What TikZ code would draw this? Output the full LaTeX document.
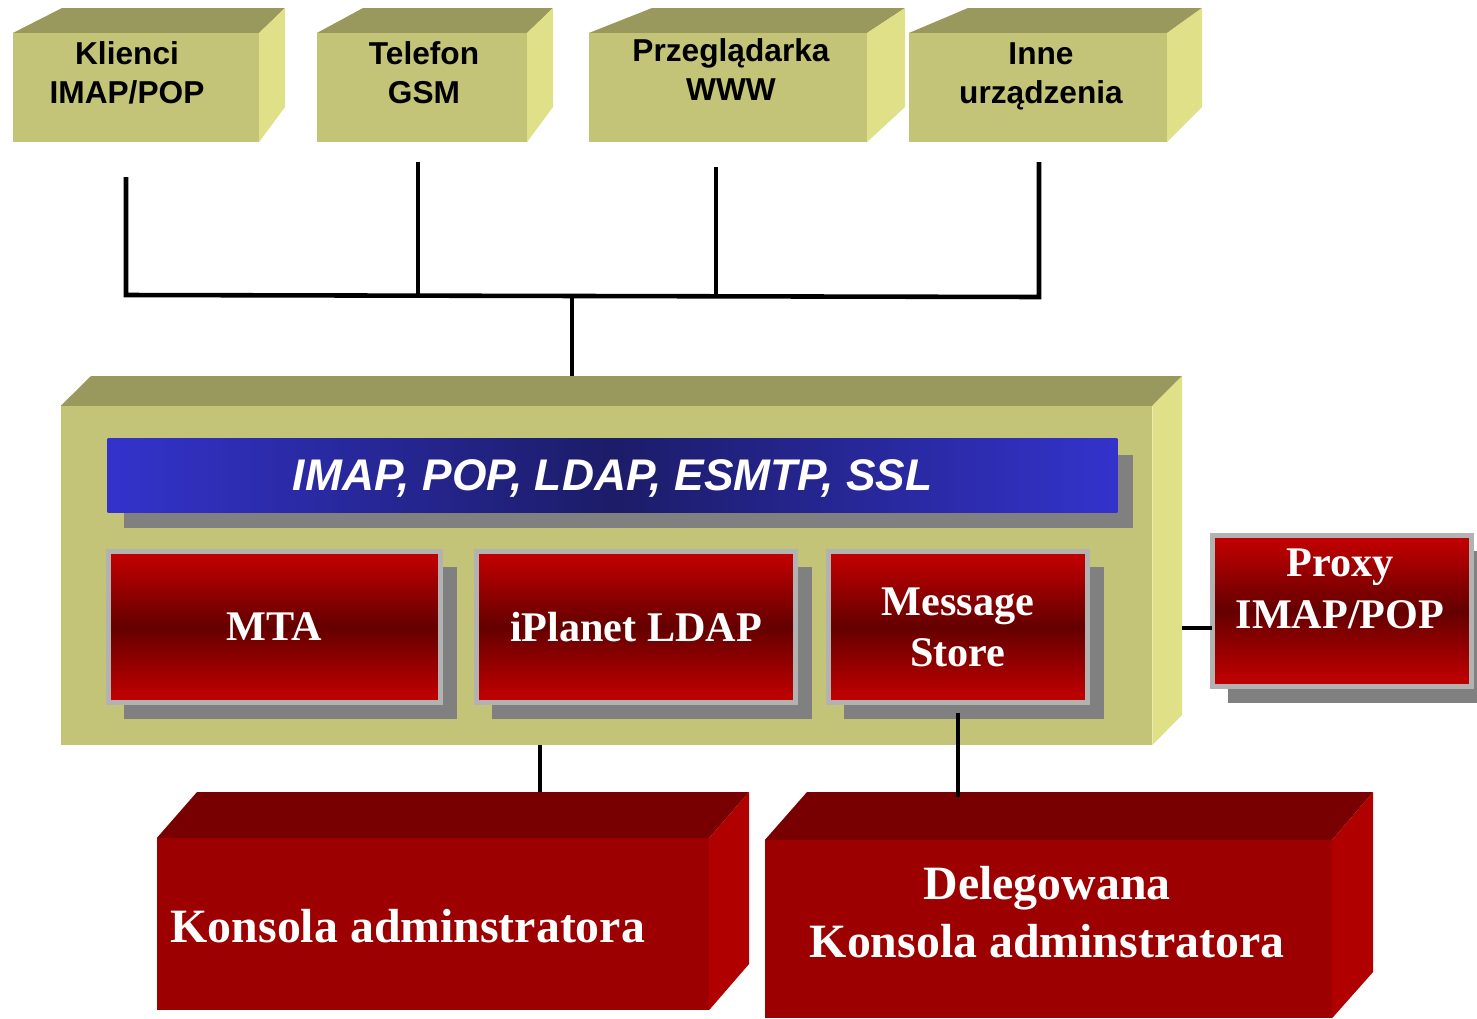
\documentclass[tikz,border=0pt]{standalone}
\usepackage{fontspec}
\setmainfont{Liberation Serif}
\setsansfont{Liberation Sans}
\usetikzlibrary{shadows}
\definecolor{olfront}{RGB}{195,196,120}
\definecolor{oltop}{RGB}{153,153,94}
\definecolor{olside}{RGB}{224,224,136}
\definecolor{shade}{RGB}{128,128,128}
\definecolor{rim}{RGB}{178,178,178}
\definecolor{redlite}{RGB}{198,0,0}
\definecolor{reddeep}{RGB}{100,0,0}
\definecolor{barlite}{RGB}{51,51,204}
\definecolor{bardeep}{RGB}{28,28,104}
\definecolor{konfront}{RGB}{156,0,0}
\definecolor{kontop}{RGB}{120,0,0}
\definecolor{konside}{RGB}{176,0,0}
\begin{document}
\begin{tikzpicture}[x=0.01cm, y=-0.01cm,
  olivefront/.style={fill=olfront, inner sep=0, outer sep=0, minimum height=1.09cm},
  clientlabel/.style={anchor=north, inner sep=0, align=center,
    font=\sffamily\bfseries\fontsize{9}{11.1}\selectfont},
  barbox/.style={left color=barlite, right color=barlite, middle color=bardeep,
    inner sep=0, outer sep=0, text=white, text depth=0pt,
    font=\sffamily\bfseries\itshape\fontsize{12.6}{14}\selectfont,
    drop shadow={shadow xshift=0.16cm, shadow yshift=-0.16cm, fill=shade, opacity=1}},
  redbox/.style={draw=rim, line width=0.05cm, top color=redlite, bottom color=redlite,
    middle color=reddeep, inner sep=0, outer sep=0, minimum height=1.51cm,
    text=white, align=center, font=\bfseries\fontsize{12}{14.5}\selectfont,
    drop shadow={shadow xshift=0.16cm, shadow yshift=-0.16cm, fill=shade, opacity=1}},
  redtext/.style={inner sep=0, text=white, align=center,
    font=\bfseries\fontsize{12}{14.8}\selectfont},
  konbox/.style={fill=konfront, inner sep=0, outer sep=0},
  consolelabel/.style={inner sep=0, text=white, align=center,
    font=\bfseries\fontsize{13.6}{16.5}\selectfont},
  wire/.style={line width=1.3pt},
  thinwire/.style={line width=0.9pt}]
\useasboundingbox (0,0) rectangle (1477,1018);

% clients
\node[olivefront, minimum width=2.46cm] (klienci) at (136,87.5) {};
\fill[oltop] (klienci.north west) -- (62,8) -- (285,8) -- (klienci.north east) -- cycle;
\fill[olside] (klienci.north east) -- (285,8) -- (285,107) -- (klienci.south east) -- cycle;
\node[clientlabel] (klienci-txt) at (127,41) {Klienci\\IMAP/POP};

\node[olivefront, minimum width=2.10cm] (gsm) at (422,87.5) {};
\fill[oltop] (gsm.north west) -- (363,8) -- (553,8) -- (gsm.north east) -- cycle;
\fill[olside] (gsm.north east) -- (553,8) -- (553,107) -- (gsm.south east) -- cycle;
\node[clientlabel] (gsm-txt) at (424,41) {Telefon\\GSM};

\node[olivefront, minimum width=2.78cm] (www) at (728,87.5) {};
\fill[oltop] (www.north west) -- (652,8) -- (905,8) -- (www.north east) -- cycle;
\fill[olside] (www.north east) -- (905,8) -- (905,107) -- (www.south east) -- cycle;
\node[clientlabel] (www-txt) at (731,38) {Przeglądarka\\WWW};

\node[olivefront, minimum width=2.58cm] (inne) at (1038,87.5) {};
\fill[oltop] (inne.north west) -- (968,8) -- (1202,8) -- (inne.north east) -- cycle;
\fill[olside] (inne.north east) -- (1202,8) -- (1202,107) -- (inne.south east) -- cycle;
\node[clientlabel] (inne-txt) at (1041,42) {Inne\\urządzenia};

% server
\node[olivefront, minimum width=10.91cm, minimum height=3.39cm] (main) at (606.5,575.5) {};
\fill[oltop] (main.north west) -- (91,376) -- (1182,376) -- (main.north east) -- cycle;
\fill[olside] (main.north east) -- (1182,376) -- (1182,715) -- (main.south east) -- cycle;

\node[barbox, minimum width=10.09cm, minimum height=0.73cm] (proto) at (612.5,475.5)
  {IMAP, POP, LDAP, ESMTP, SSL};

\node[redbox, minimum width=3.32cm] (mta) at (274.5,627) {MTA};
\node[redbox, minimum width=3.19cm] (ldap) at (636,627) {iPlanet LDAP};
\node[redbox, minimum width=2.59cm] (store) at (958,627) {Message\\Store};

\node[redbox, minimum width=2.59cm] (proxy) at (1342,611) {};
\node[redtext, anchor=north] (proxy-txt) at (1340,548) {Proxy\\IMAP/POP};

% consoles
\node[konbox, minimum width=5.52cm, minimum height=1.72cm] (kons) at (433,924) {};
\fill[kontop] (kons.north west) -- (197,792) -- (749,792) -- (kons.north east) -- cycle;
\fill[konside] (kons.north east) -- (749,792) -- (749,964) -- (kons.south east) -- cycle;
\node[consolelabel, anchor=base west] (kons-txt) at (170,942) {Konsola adminstratora};

\node[konbox, minimum width=5.67cm, minimum height=1.78cm] (deleg) at (1048.5,929) {};
\fill[kontop] (deleg.north west) -- (807,792) -- (1373,792) -- (deleg.north east) -- cycle;
\fill[konside] (deleg.north east) -- (1373,792) -- (1373,972) -- (deleg.south east) -- cycle;
\node[consolelabel, anchor=north] (deleg-txt) at (1047,866) {Delegowana\\Konsola adminstratora};

% wires
\coordinate (t1) at (126,177);
\coordinate (t2) at (418,162);
\coordinate (t3) at (716,167);
\coordinate (t4) at (1039,162);
\coordinate (b1) at (126,295);
\coordinate (b4) at (1039,297);
\draw[wire] (t1) -- (b1) -- (b4) -- (t4);
\draw[wire] (t2) -- (t2 |- b1);
\draw[wire] (t3) -- (t3 |- b1);
\coordinate (hub) at (572,296);
\coordinate (mainback) at (572,376);
\draw[thinwire] (hub) -- (mainback);

\coordinate (kons-top) at (540,792);
\draw[wire] (kons-top |- main.south) -- (kons-top);
\coordinate (deleg-top) at (957,797);
\draw[wire] ([yshift=-0.1cm]store.south) -- (store.south |- deleg-top);
\coordinate (sidept) at (1182,628);
\draw[wire] (sidept) -- (sidept -| proxy.west);
\end{tikzpicture}
\end{document}
